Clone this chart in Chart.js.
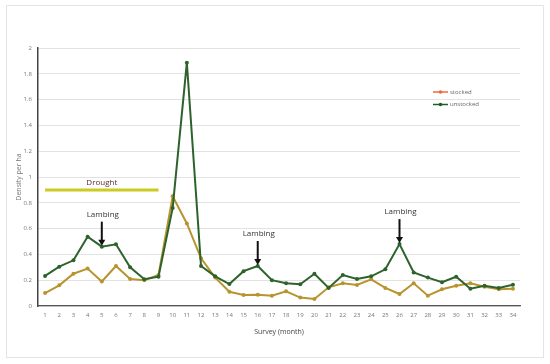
<!DOCTYPE html>
<html>
<head>
<meta charset="utf-8">
<script src="https://cdn.jsdelivr.net/npm/chart.js@4"></script>
<style>
    html, body { margin: 0; padding: 0; background: #fff; }
    #frame { position: absolute; left: 6px; top: 5px; width: 536px; height: 351px; border: 1px solid #e4e4e4; }
    #wrap { position: absolute; left: 0; top: 0; width: 550px; height: 364px; }
</style>
</head>
<body>
<div id="frame"></div>
<div id="wrap"><canvas id="densityChart" width="550" height="364"></canvas></div>
<script>
const surveys = ['1','2','3','4','5','6','7','8','9','10','11','12','13','14','15','16','17',
    '18','19','20','21','22','23','24','25','26','27','28','29','30','31','32','33','34'];
const stocked = [0.10, 0.16, 0.25, 0.29, 0.19, 0.31, 0.21, 0.20, 0.24, 0.85, 0.64, 0.37, 0.22, 0.11, 0.085, 0.088, 0.08,
    0.114, 0.065, 0.054, 0.145, 0.176, 0.163, 0.207, 0.14, 0.093, 0.176, 0.08, 0.13, 0.157, 0.176, 0.15, 0.13, 0.134];
const unstocked = [0.233, 0.305, 0.354, 0.537, 0.46, 0.478, 0.30, 0.207, 0.227, 0.76, 1.886, 0.31, 0.23, 0.17, 0.27, 0.31, 0.20,
    0.176, 0.168, 0.25, 0.14, 0.24, 0.21, 0.23, 0.284, 0.48, 0.26, 0.22, 0.184, 0.227, 0.134, 0.157, 0.14, 0.165];
const drought = [0.9, 0.9, 0.9, 0.9, 0.9, 0.9, 0.9, 0.9, 0.9];
const droughtLabelMonth = 5;
const lambingMonths = [5, 16, 26];
const legendItems = [
    { label: 'stocked', color: '#f2683a' },
    { label: 'unstocked', color: '#1e5e22' }
];

const notesPlugin = {
    id: 'notes',
    afterDatasetsDraw(chart) {
        const ctx = chart.ctx;
        const x = chart.scales.x;
        const y = chart.scales.y;
        ctx.save();

        // drought label
        ctx.font = '8px "Open Sans", sans-serif';
        ctx.fillStyle = '#5e2a2a';
        ctx.textAlign = 'center';
        ctx.textBaseline = 'middle';
        ctx.fillText('Drought', x.getPixelForValue(droughtLabelMonth - 1), y.getPixelForValue(drought[0]) - 7);

        // lambing arrows
        lambingMonths.forEach(function (m) {
            const px = x.getPixelForValue(m - 1);
            const tip = y.getPixelForValue(unstocked[m - 1]) - 1;
            const top = tip - 24;
            ctx.strokeStyle = '#111';
            ctx.fillStyle = '#111';
            ctx.lineWidth = 2;
            ctx.beginPath();
            ctx.moveTo(px, top);
            ctx.lineTo(px, tip - 5);
            ctx.stroke();
            ctx.beginPath();
            ctx.moveTo(px - 3.5, tip - 6);
            ctx.lineTo(px + 3.5, tip - 6);
            ctx.lineTo(px, tip);
            ctx.closePath();
            ctx.fill();
            ctx.fillStyle = '#333';
            ctx.font = '8px "Open Sans", sans-serif';
            ctx.fillText('Lambing', px + 1, top - 7);
        });

        // legend
        ctx.font = '6px "Open Sans", sans-serif';
        ctx.textAlign = 'left';
        legendItems.forEach(function (item, i) {
            const ly = 92 + i * 12.5;
            ctx.strokeStyle = item.color;
            ctx.fillStyle = item.color;
            ctx.lineWidth = 1.5;
            ctx.beginPath();
            ctx.moveTo(433, ly);
            ctx.lineTo(448, ly);
            ctx.stroke();
            ctx.beginPath();
            ctx.arc(440.5, ly, 1.8, 0, Math.PI * 2);
            ctx.fill();
            ctx.fillStyle = '#666';
            ctx.fillText(item.label, 450, ly);
        });
        ctx.restore();
    }
};

const ctx = document.getElementById('densityChart').getContext('2d');
const densityChart = new Chart(ctx, {
    type: 'line',
    data: {
        labels: surveys,
        datasets: [{
            label: 'drought',
            data: drought,
            borderColor: '#cccb22',
            borderWidth: 3,
            pointRadius: 0,
            order: 3
        }, {
            label: 'stocked',
            data: stocked,
            borderColor: '#b8942f',
            backgroundColor: '#b8942f',
            borderWidth: 2,
            pointRadius: 2,
            pointBorderWidth: 0,
            order: 2
        }, {
            label: 'unstocked',
            data: unstocked,
            borderColor: '#2d632b',
            backgroundColor: '#2d632b',
            borderWidth: 2,
            pointRadius: 2,
            pointBorderWidth: 0,
            order: 1
        }]
    },
    options: {
        responsive: false,
        animation: false,
        layout: {
            padding: { left: 15, right: 30, top: 48, bottom: 28 }
        },
        scales: {
            x: {
                offset: true,
                grid: { display: false, drawTicks: false },
                border: { color: '#555', width: 1.2 },
                ticks: { color: '#777', padding: 6, font: { size: 6, family: 'Open Sans' }, maxRotation: 0, autoSkip: false },
                title: { display: true, text: 'Survey (month)', color: '#444', padding: { top: 2, bottom: 0 }, font: { size: 7, family: 'Open Sans' } },
                afterFit: function (s) { s.height = 30; }
            },
            y: {
                min: 0,
                max: 2,
                grid: { color: '#e2e2e2', lineWidth: 1, drawTicks: false },
                border: { color: '#444', width: 1.5 },
                ticks: {
                    stepSize: 0.2, color: '#777', padding: 6, font: { size: 6, family: 'Open Sans' },
                    callback: function (v) { return String(Number(v.toFixed(1))); }
                },
                title: { display: true, text: 'Density per ha', color: '#777', padding: { top: 0, bottom: 0 }, font: { size: 7, family: 'Open Sans' } },
                afterFit: function (s) { s.width = 23; }
            }
        },
        plugins: {
            legend: { display: false },
            tooltip: { enabled: false }
        }
    },
    plugins: [notesPlugin]
});
</script>
</body>
</html>
